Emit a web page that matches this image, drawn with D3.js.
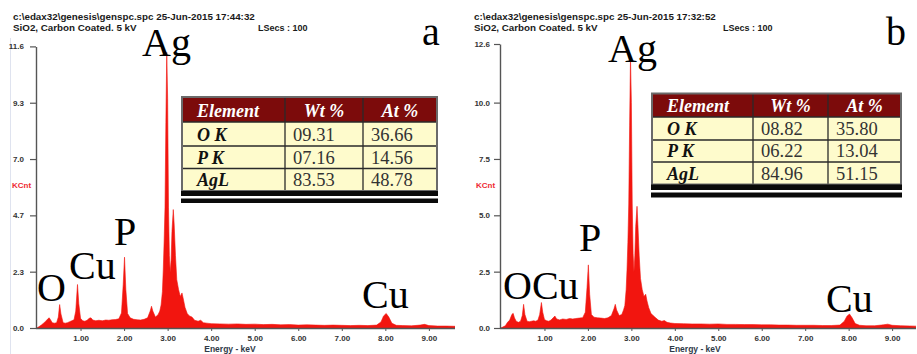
<!DOCTYPE html>
<html><head><meta charset="utf-8">
<script src="https://cdn.jsdelivr.net/npm/d3@7"></script>
<style>
html,body{margin:0;padding:0;background:#fff;}
svg{display:block;}
</style></head>
<body>
<svg id="chart" width="917" height="354"></svg>
<script>
// ---------- DATA ----------
const energy = [
  0.00, 0.05, 0.10, 0.15, 0.20, 0.25, 0.28, 0.31, 0.35, 0.40,
  0.45, 0.49, 0.52, 0.55, 0.60, 0.65, 0.70, 0.75, 0.80, 0.85,
  0.89, 0.93, 0.96, 1.00, 1.05, 1.10, 1.15, 1.20, 1.24, 1.28,
  1.35, 1.42, 1.50, 1.58, 1.65, 1.72, 1.80, 1.88, 1.94, 1.98,
  2.01, 2.04, 2.08, 2.14, 2.22, 2.30, 2.38, 2.46, 2.54, 2.60,
  2.63, 2.66, 2.72, 2.78, 2.82, 2.85, 2.88, 2.90, 2.92, 2.94,
  2.96, 2.98, 3.00, 3.02, 3.04, 3.06, 3.08, 3.10, 3.13, 3.15,
  3.18, 3.21, 3.25, 3.29, 3.33, 3.36, 3.40, 3.45, 3.50, 3.56,
  3.62, 3.70, 3.76, 3.82, 3.90, 4.00, 4.20, 4.40, 4.60, 4.80,
  5.00, 5.20, 5.40, 5.60, 5.80, 6.00, 6.20, 6.40, 6.60, 6.80,
  7.00, 7.20, 7.40, 7.60, 7.80, 7.90, 7.96, 8.02, 8.08, 8.15,
  8.25, 8.40, 8.60, 8.80, 8.90, 9.00, 9.20, 9.40, 9.60
];
const countsA = [
  0.00, 0.06, 0.12, 0.20, 0.28, 0.38, 0.42, 0.34, 0.22, 0.20,
  0.22, 0.45, 0.97, 0.58, 0.22, 0.20, 0.22, 0.26, 0.30, 0.34,
  0.70, 1.80, 1.00, 0.40, 0.30, 0.28, 0.32, 0.40, 0.42, 0.33,
  0.30, 0.32, 0.30, 0.33, 0.32, 0.34, 0.35, 0.38, 0.62, 1.80,
  2.93, 1.60, 0.60, 0.42, 0.36, 0.34, 0.33, 0.36, 0.42, 0.70,
  0.90, 0.70, 0.45, 0.55, 0.70, 0.95, 1.50, 2.40, 3.60, 5.00,
  8.50, 11.40, 9.50, 5.00, 3.00, 2.30, 2.80, 4.00, 4.90, 4.30,
  3.00, 2.00, 1.60, 1.30, 1.45, 1.20, 0.85, 0.60, 0.50, 0.45,
  0.32, 0.28, 0.32, 0.22, 0.20, 0.18, 0.17, 0.16, 0.17, 0.15,
  0.16, 0.14, 0.15, 0.13, 0.14, 0.12, 0.13, 0.12, 0.11, 0.12,
  0.11, 0.10, 0.11, 0.10, 0.12, 0.25, 0.50, 0.60, 0.45, 0.20,
  0.11, 0.10, 0.09, 0.12, 0.15, 0.10, 0.08, 0.08, 0.07
];
const countsB = [
  0.00, 0.05, 0.10, 0.25, 0.35, 0.60, 0.65, 0.45, 0.30, 0.25,
  0.30, 0.55, 1.05, 0.60, 0.30, 0.28, 0.30, 0.32, 0.30, 0.35,
  0.60, 1.13, 0.70, 0.38, 0.32, 0.30, 0.35, 0.45, 0.53, 0.40,
  0.36, 0.40, 0.38, 0.42, 0.40, 0.42, 0.44, 0.46, 0.70, 1.80,
  2.80, 1.50, 0.60, 0.48, 0.45, 0.44, 0.42, 0.45, 0.55, 0.85,
  1.05, 0.80, 0.55, 0.60, 0.80, 1.00, 1.70, 2.60, 3.80, 5.50,
  9.00, 12.00, 10.00, 5.50, 3.30, 2.50, 3.20, 4.50, 5.40, 4.60,
  3.20, 2.20, 1.70, 1.40, 1.50, 1.20, 0.90, 0.65, 0.55, 0.45,
  0.35, 0.30, 0.33, 0.25, 0.22, 0.20, 0.19, 0.18, 0.18, 0.17,
  0.18, 0.16, 0.16, 0.15, 0.15, 0.14, 0.14, 0.13, 0.13, 0.12,
  0.12, 0.12, 0.11, 0.11, 0.13, 0.30, 0.52, 0.62, 0.45, 0.20,
  0.12, 0.10, 0.10, 0.14, 0.17, 0.12, 0.10, 0.09, 0.08
];

const xTickValues = [1, 2, 3, 4, 5, 6, 7, 8, 9];
const xTickLabels = ["1.00", "2.00", "3.00", "4.00", "5.00", "6.00", "7.00", "8.00", "9.00"];
const yTickValuesA = [0, 2.33, 4.66, 6.99, 9.32, 11.65];
const yTickLabelsA = ["0.0", "2.3", "4.7", "7.0", "9.3", "11.6"];
const yTickValuesB = [0, 2.5, 5.0, 7.5, 10.0, 12.6];
const yTickLabelsB = ["0.0", "2.5", "5.0", "7.5", "10.0", "12.6"];

const headerLine1A = "c:\\edax32\\genesis\\genspc.spc  25-Jun-2015 17:44:32";
const headerLine1B = "c:\\edax32\\genesis\\genspc.spc  25-Jun-2015 17:32:52";
const headerLine2 = "SiO2, Carbon Coated.  5 kV";
const lsecsText = "LSecs : 100";
const yAxisTitle = "KCnt";
const xAxisTitle = "Energy - keV";

const tableHeader = ["Element", "Wt %", "At %"];
const elementsList = ["O K", "P K", "AgL"];
const wtA = ["09.31", "07.16", "83.53"];
const atA = ["36.66", "14.56", "48.78"];
const wtB = ["08.82", "06.22", "84.96"];
const atB = ["35.80", "13.04", "51.15"];

const peakLabelsA = ["Ag", "P", "Cu", "O", "Cu"];
const peakLabelsB = ["Ag", "P", "OCu", "Cu"];
const panelLetters = ["a", "b"];

// ---------- LAYOUT ----------
const SERIF = "'Liberation Serif','Times New Roman',Times,serif";
const SANS = "'Liberation Sans',Arial,Helvetica,sans-serif";
const RED = "#f2150f";

const panels = [
  {
    counts: countsA, yTicks: yTickValuesA, yLabels: yTickLabelsA,
    xRange: [37, 455], xDomain: [0, 9.6], yRange: [328, 46.4], yDomain: [0, 11.65],
    axisX: 36, yPad: 6,
    header: headerLine1A, headerX: 13, lsecsX: 258,
    kcntX: 12,
    letter: panelLetters[0], letterPos: [422, 45],
    peaks: peakLabelsA,
    peakPos: [[142, 56], [114, 245], [69, 279], [37, 301], [362, 308]],
    wt: wtA, at: atA,
    table: { cols: [182, 285, 363, 437], rows: [97, 122, 146, 168.5, 191], bar1: [191, 196], bar2: [198.5, 203] },
    titleX: 230
  },
  {
    counts: countsB, yTicks: yTickValuesB, yLabels: yTickLabelsB,
    xRange: [501, 916], xDomain: [0, 9.55], yRange: [328, 44], yDomain: [0, 12.6],
    axisX: 500, yPad: 4,
    header: headerLine1B, headerX: 474, lsecsX: 723,
    kcntX: 476,
    letter: panelLetters[1], letterPos: [886, 45],
    peaks: peakLabelsB,
    peakPos: [[608, 62], [579, 251], [503, 299], [826, 312]],
    wt: wtB, at: atB,
    table: { cols: [652, 753, 828, 901], rows: [93.5, 117, 140, 162, 184.5], bar1: [184.5, 190], bar2: [192.5, 197.5] },
    titleX: 695
  }
];

const svg = d3.select("#chart");

// faint frame line on far left
svg.append("line").attr("x1", 10.5).attr("x2", 10.5).attr("y1", 38).attr("y2", 354)
  .attr("stroke", "#dfe3ef").attr("stroke-width", 1);

panels.forEach((p, pi) => {
  const g = svg.append("g");
  const x = d3.scaleLinear().domain(p.xDomain).range(p.xRange);
  const y = d3.scaleLinear().domain(p.yDomain).range(p.yRange);

  // header text
  g.append("text").attr("x", p.headerX).attr("y", 20).text(p.header)
    .attr("font-family", SANS).attr("font-weight", "bold").attr("font-size", 9.8).attr("fill", "#1a1a1a");
  g.append("text").attr("x", p.headerX).attr("y", 31).text(headerLine2)
    .attr("font-family", SANS).attr("font-weight", "bold").attr("font-size", 9.8).attr("fill", "#1a1a1a");
  g.append("text").attr("x", p.lsecsX).attr("y", 31).text(lsecsText)
    .attr("font-family", SANS).attr("font-weight", "bold").attr("font-size", 9).attr("fill", "#1a1a1a");

  // clip
  const clipId = "clip" + pi;
  svg.append("clipPath").attr("id", clipId).append("rect")
    .attr("x", p.xRange[0]).attr("y", 0).attr("width", p.xRange[1] - p.xRange[0]).attr("height", p.yRange[0]);

  // spectrum
  const pts = energy.map((e, i) => [e, p.counts[i]]);
  const area = d3.area().x(d => x(d[0])).y0(y(0)).y1(d => y(d[1]));
  g.append("path").datum(pts).attr("d", area).attr("fill", RED).attr("stroke", RED)
    .attr("stroke-width", 0.6).attr("clip-path", `url(#${clipId})`);

  // y axis
  const yAxis = d3.axisLeft(y).tickValues(p.yTicks).tickFormat((d, i) => p.yLabels[i])
    .tickSize(6).tickSizeOuter(0).tickPadding(p.yPad);
  const gy = g.append("g").attr("transform", `translate(${p.axisX},0)`).call(yAxis);
  gy.select(".domain").attr("stroke", "#555").attr("stroke-width", 1.4);
  gy.selectAll(".tick line").attr("stroke", "#555").attr("stroke-width", 1.2);
  gy.selectAll(".tick text").attr("font-family", SANS).attr("font-weight", "bold")
    .attr("font-size", 8).attr("fill", "#333");

  // x axis
  const xAxis = d3.axisBottom(x).tickValues(xTickValues).tickFormat((d, i) => xTickLabels[i])
    .tickSize(3).tickSizeOuter(0).tickPadding(4);
  const gx = g.append("g").attr("transform", `translate(0,${p.yRange[0]})`).call(xAxis);
  gx.select(".domain").attr("stroke", "#555").attr("stroke-width", 1.4)
    .attr("d", `M${p.axisX},0.5H${p.xRange[1]}`);
  gx.selectAll(".tick line").attr("stroke", "#555").attr("stroke-width", 1);
  gx.selectAll(".tick text").attr("font-family", SANS).attr("font-weight", "bold")
    .attr("font-size", 8).attr("fill", "#333");

  g.append("text").attr("x", p.titleX).attr("y", 352).attr("text-anchor", "middle").text(xAxisTitle)
    .attr("font-family", SANS).attr("font-weight", "bold").attr("font-size", 8.5).attr("fill", "#2f3a48");

  g.append("text").attr("x", p.kcntX).attr("y", 188).text(yAxisTitle)
    .attr("font-family", SANS).attr("font-weight", "bold").attr("font-size", 8).attr("fill", "#ee2a33");

  // table
  const t = p.table;
  const tw = t.cols[3] - t.cols[0];
  const tg = g.append("g");
  tg.append("rect").attr("x", t.cols[0]).attr("y", t.rows[0]).attr("width", tw)
    .attr("height", t.rows[1] - t.rows[0]).attr("fill", "#7c0b0b");
  tg.append("rect").attr("x", t.cols[0]).attr("y", t.rows[1]).attr("width", tw)
    .attr("height", t.rows[4] - t.rows[1]).attr("fill", "#fefbcc");
  t.rows.slice(1, 4).forEach(r => tg.append("line").attr("x1", t.cols[0]).attr("x2", t.cols[3])
    .attr("y1", r).attr("y2", r).attr("stroke", "#2a2a2a").attr("stroke-width", 1.3));
  t.cols.slice(1, 3).forEach(c => tg.append("line").attr("x1", c).attr("x2", c)
    .attr("y1", t.rows[0]).attr("y2", t.rows[4]).attr("stroke", "#2a2a2a").attr("stroke-width", 1.3));
  tg.append("rect").attr("x", t.cols[0]).attr("y", t.rows[0]).attr("width", tw)
    .attr("height", t.rows[4] - t.rows[0]).attr("fill", "none").attr("stroke", "#6a6a6a").attr("stroke-width", 2);
  tg.append("rect").attr("x", t.cols[0] - 1).attr("y", t.bar1[0]).attr("width", tw + 2)
    .attr("height", t.bar1[1] - t.bar1[0]).attr("fill", "#0a0a0a");
  tg.append("rect").attr("x", t.cols[0] - 1).attr("y", t.bar2[0]).attr("width", tw + 2)
    .attr("height", t.bar2[1] - t.bar2[0]).attr("fill", "#0a0a0a");

  tableHeader.forEach((h, i) => {
    const cx = i === 0 ? t.cols[0] + 15 : (t.cols[i] + t.cols[i + 1]) / 2;
    tg.append("text").attr("x", cx).attr("y", t.rows[1] - 5.5)
      .attr("text-anchor", i === 0 ? "start" : "middle").text(h)
      .attr("font-family", SERIF).attr("font-weight", "bold").attr("font-style", "italic")
      .attr("font-size", 18).attr("fill", "#fff");
  });
  elementsList.forEach((el, r) => {
    const base = t.rows[r + 2] - 5;
    tg.append("text").attr("x", t.cols[0] + 15).attr("y", base).text(el)
      .attr("font-family", SERIF).attr("font-weight", "bold").attr("font-style", "italic")
      .attr("font-size", 18).attr("fill", "#111");
    tg.append("text").attr("x", t.cols[1] + 8).attr("y", base).text(p.wt[r])
      .attr("font-family", SERIF).attr("font-size", 18.5).attr("fill", "#333");
    tg.append("text").attr("x", t.cols[2] + 8).attr("y", base).text(p.at[r])
      .attr("font-family", SERIF).attr("font-size", 18.5).attr("fill", "#333");
  });

  p.peaks.forEach((lab, i) => {
    g.append("text").attr("x", p.peakPos[i][0]).attr("y", p.peakPos[i][1]).text(lab)
      .attr("font-family", SERIF).attr("font-size", 40).attr("fill", "#000");
  });

  g.append("text").attr("x", p.letterPos[0]).attr("y", p.letterPos[1]).text(p.letter)
    .attr("font-family", SERIF).attr("font-size", 40).attr("fill", "#000");
});
</script>
</body></html>
